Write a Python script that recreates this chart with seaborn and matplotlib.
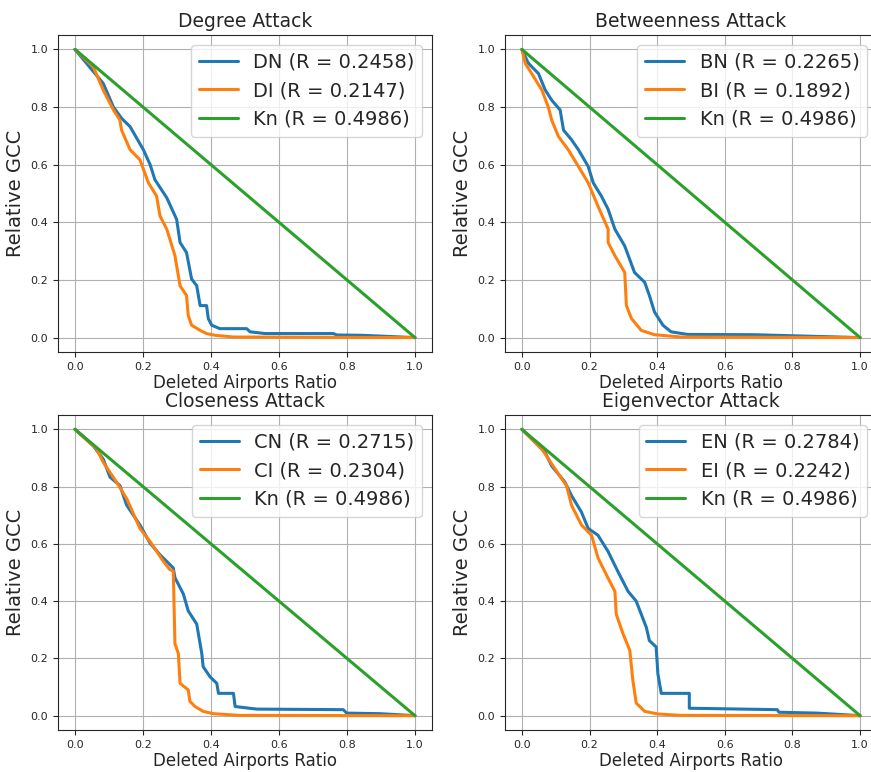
import matplotlib
matplotlib.use("Agg")
import matplotlib.pyplot as plt
import seaborn as sns
import pandas as pd

# Degree attack
dn_x = [0, 0.083, 0.113, 0.137, 0.162, 0.201, 0.221, 0.235, 0.27, 0.299, 0.309, 0.328, 0.343, 0.358, 0.368, 0.387, 0.392, 0.402, 0.426, 0.505, 0.515, 0.559, 0.76, 0.77, 0.843, 1.0]
dn_y = [1.0, 0.882, 0.80, 0.761, 0.732, 0.652, 0.60, 0.548, 0.485, 0.41, 0.33, 0.295, 0.203, 0.18, 0.111, 0.111, 0.066, 0.043, 0.031, 0.031, 0.02, 0.014, 0.014, 0.009, 0.008, 0.0]
di_x = [0, 0.054, 0.083, 0.113, 0.132, 0.137, 0.162, 0.191, 0.216, 0.24, 0.25, 0.27, 0.294, 0.309, 0.328, 0.333, 0.343, 0.368, 0.387, 0.412, 0.466, 1.0]
di_y = [1.0, 0.939, 0.859, 0.79, 0.755, 0.72, 0.652, 0.617, 0.537, 0.491, 0.422, 0.376, 0.284, 0.18, 0.146, 0.077, 0.043, 0.025, 0.014, 0.008, 0.002, 0.0]

# Betweenness attack
bn_x = [0, 0.015, 0.02, 0.049, 0.069, 0.088, 0.113, 0.123, 0.147, 0.167, 0.196, 0.211, 0.235, 0.255, 0.275, 0.304, 0.333, 0.363, 0.377, 0.392, 0.417, 0.441, 0.49, 0.686, 1.0]
bn_y = [1.0, 0.962, 0.951, 0.916, 0.859, 0.824, 0.79, 0.72, 0.686, 0.652, 0.594, 0.537, 0.491, 0.445, 0.376, 0.318, 0.226, 0.192, 0.146, 0.089, 0.043, 0.02, 0.011, 0.01, 0.0]
bi_x = [0, 0.01, 0.029, 0.059, 0.078, 0.088, 0.108, 0.137, 0.167, 0.196, 0.225, 0.255, 0.255, 0.275, 0.304, 0.309, 0.324, 0.353, 0.392, 0.47, 1.0]
bi_y = [1.0, 0.951, 0.916, 0.859, 0.80, 0.755, 0.698, 0.652, 0.594, 0.537, 0.456, 0.376, 0.33, 0.284, 0.226, 0.111, 0.066, 0.025, 0.01, 0.002, 0.0]

# Closeness attack
cn_x = [0, 0.054, 0.083, 0.103, 0.132, 0.152, 0.191, 0.221, 0.25, 0.289, 0.294, 0.319, 0.333, 0.358, 0.373, 0.377, 0.397, 0.417, 0.422, 0.466, 0.471, 0.534, 0.789, 0.799, 0.897, 1.0]
cn_y = [1.0, 0.942, 0.896, 0.833, 0.804, 0.735, 0.666, 0.602, 0.562, 0.516, 0.482, 0.424, 0.366, 0.32, 0.216, 0.171, 0.136, 0.113, 0.078, 0.078, 0.032, 0.023, 0.021, 0.009, 0.007, 0.0]
ci_x = [0, 0.064, 0.083, 0.122, 0.152, 0.191, 0.221, 0.26, 0.279, 0.289, 0.294, 0.304, 0.309, 0.333, 0.338, 0.353, 0.377, 0.407, 0.485, 1.0]
ci_y = [1.0, 0.931, 0.885, 0.816, 0.758, 0.654, 0.608, 0.539, 0.51, 0.505, 0.251, 0.217, 0.113, 0.09, 0.05, 0.032, 0.015, 0.007, 0.001, 0.0]

# Eigenvector attack
en_x = [0, 0.069, 0.088, 0.127, 0.147, 0.176, 0.196, 0.225, 0.255, 0.284, 0.314, 0.338, 0.353, 0.368, 0.377, 0.397, 0.402, 0.412, 0.495, 0.495, 0.755, 0.76, 0.873, 1.0]
en_y = [1.0, 0.919, 0.872, 0.816, 0.768, 0.711, 0.654, 0.63, 0.573, 0.503, 0.434, 0.4, 0.354, 0.308, 0.262, 0.24, 0.147, 0.078, 0.078, 0.026, 0.021, 0.012, 0.009, 0.0]
ei_x = [0, 0.059, 0.098, 0.132, 0.147, 0.176, 0.206, 0.225, 0.255, 0.275, 0.279, 0.299, 0.319, 0.328, 0.338, 0.363, 0.402, 0.471, 1.0]
ei_y = [1.0, 0.931, 0.862, 0.803, 0.734, 0.666, 0.63, 0.551, 0.48, 0.434, 0.354, 0.286, 0.228, 0.124, 0.044, 0.015, 0.006, 0.001, 0.0]

# Random baseline
kn_x = [0.0, 1.0]
kn_y = [1.0, 0.0]

titles = ["Degree Attack", "Betweenness Attack", "Closeness Attack", "Eigenvector Attack"]
labels = [
    ["DN (R = 0.2458)", "DI (R = 0.2147)", "Kn (R = 0.4986)"],
    ["BN (R = 0.2265)", "BI (R = 0.1892)", "Kn (R = 0.4986)"],
    ["CN (R = 0.2715)", "CI (R = 0.2304)", "Kn (R = 0.4986)"],
    ["EN (R = 0.2784)", "EI (R = 0.2242)", "Kn (R = 0.4986)"],
]
curves = [
    [(dn_x, dn_y), (di_x, di_y), (kn_x, kn_y)],
    [(bn_x, bn_y), (bi_x, bi_y), (kn_x, kn_y)],
    [(cn_x, cn_y), (ci_x, ci_y), (kn_x, kn_y)],
    [(en_x, en_y), (ei_x, ei_y), (kn_x, kn_y)],
]
colors = ["#1f77b4", "#ff7f0e", "#2ca02c"]

sns.set_style("ticks", {"axes.grid": True, "grid.color": "#b0b0b0"})
plt.rcParams["font.family"] = ["DejaVu Sans"]

W, H = 871, 772
fig = plt.figure(figsize=(W / 100, H / 100), dpi=100)

# axes boxes in pixels: left, top, right, bottom
boxes = [(58, 35, 432, 352), (505, 35, 877, 352), (58, 415, 432, 730), (505, 415, 877, 730)]

for i, (l, t, r, b) in enumerate(boxes):
    ax = fig.add_axes([l / W, (H - b) / H, (r - l) / W, (b - t) / H])
    for (xs, ys), lab, c in zip(curves[i], labels[i], colors):
        df = pd.DataFrame({"x": xs, "y": ys})
        sns.lineplot(data=df, x="x", y="y", ax=ax, color=c, linewidth=2.2,
                     label=lab, sort=False, estimator=None)
    ax.set_xlim(-0.05, 1.05)
    ax.set_ylim(-0.05, 1.05)
    ax.set_xticks([0, 0.2, 0.4, 0.6, 0.8, 1.0])
    ax.set_yticks([0, 0.2, 0.4, 0.6, 0.8, 1.0])
    ax.tick_params(labelsize=8, length=3.5, width=0.8, color="#262626")
    ax.grid(True, color="#b0b0b0", linewidth=0.8)
    for s in ax.spines.values():
        s.set_color("#262626")
        s.set_linewidth(0.8)
    ax.set_title(titles[i], fontsize=13.5)
    ax.set_xlabel("Deleted Airports Ratio", fontsize=12, labelpad=2)
    ax.set_ylabel("Relative GCC", fontsize=14)
    ax.legend(loc="upper right", fontsize=14, handlelength=2.0, framealpha=0.8)

fig.savefig("out.png", dpi=100)
